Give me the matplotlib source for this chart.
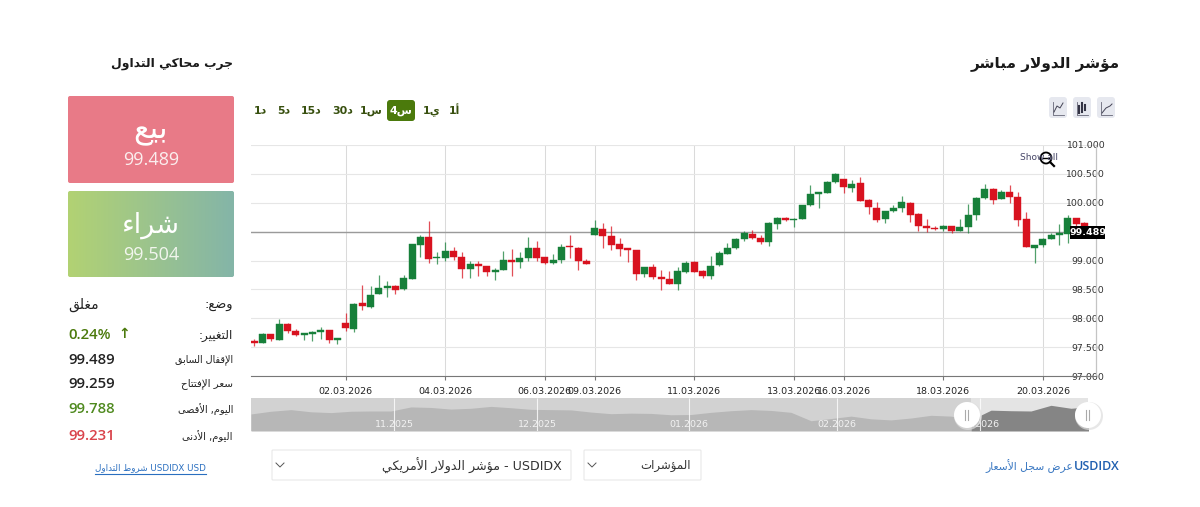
import matplotlib
matplotlib.use('Agg')
import matplotlib.pyplot as plt
import numpy as np
from matplotlib.patches import Circle, FancyBboxPatch, Rectangle

# 4h candles, oldest first
opens = [97.584, 97.578, 97.723, 97.630, 97.902, 97.786, 97.717, 97.734, 97.763, 97.798,
         97.624, 97.925, 97.821, 98.260, 98.191, 98.422, 98.526, 98.561, 98.503, 98.682,
         99.272, 99.410, 99.035, 99.041, 99.162, 99.064, 98.856, 98.937, 98.902, 98.798,
         98.838, 99.006, 98.971, 99.041, 99.220, 99.052, 98.965, 99.012, 99.243, 99.220,
         98.994, 99.445, 99.549, 99.422, 99.278, 99.208, 99.179, 98.769, 98.890, 98.717,
         98.688, 98.596, 98.809, 98.977, 98.815, 98.740, 98.925, 99.116, 99.220, 99.376,
         99.463, 99.393, 99.324, 99.636, 99.740, 99.694, 99.717, 99.954, 100.156, 100.173,
         100.353, 100.405, 100.249, 100.347, 100.041, 99.908, 99.711, 99.856, 99.908, 100.000,
         99.798, 99.595, 99.567, 99.543, 99.595, 99.515, 99.578, 99.780, 100.075, 100.243,
         100.064, 100.185, 100.098, 99.711, 99.220, 99.260, 99.376, 99.439, 99.463, 99.728,
         99.642]
highs = [97.636, 97.746, 97.734, 97.983, 97.913, 97.821, 97.746, 97.781, 97.850, 97.804,
         97.653, 98.098, 98.260, 98.572, 98.555, 98.746, 98.642, 98.584, 98.757, 99.283,
         99.434, 99.682, 99.139, 99.324, 99.226, 99.139, 98.994, 98.994, 98.913, 98.867,
         99.162, 99.191, 99.145, 99.405, 99.335, 99.064, 99.104, 99.289, 99.439, 99.226,
         99.029, 99.699, 99.653, 99.590, 99.393, 99.220, 99.185, 98.890, 98.931, 98.832,
         98.815, 98.890, 98.989, 98.994, 98.827, 99.075, 99.168, 99.306, 99.387, 99.509,
         99.520, 99.439, 99.659, 99.746, 99.752, 99.734, 99.954, 100.301, 100.191, 100.376,
         100.520, 100.410, 100.393, 100.451, 100.064, 100.012, 99.862, 99.960, 100.116, 100.017,
         99.815, 99.723, 99.590, 99.607, 99.601, 99.711, 99.983, 100.093, 100.318, 100.249,
         100.220, 100.301, 100.179, 99.838, 99.266, 99.382, 99.468, 99.630, 99.786, 99.734,
         99.665]
lows = [97.515, 97.567, 97.607, 97.630, 97.746, 97.700, 97.619, 97.607, 97.636, 97.578,
        97.549, 97.781, 97.763, 98.139, 98.179, 98.416, 98.364, 98.428, 98.491, 98.682,
        99.058, 98.960, 98.937, 99.000, 99.012, 98.705, 98.700, 98.740, 98.728, 98.659,
        98.838, 98.728, 98.873, 98.994, 98.994, 98.942, 98.948, 98.965, 99.046, 98.832,
        98.931, 99.439, 99.220, 99.179, 99.075, 98.971, 98.665, 98.717, 98.676, 98.486,
        98.590, 98.486, 98.786, 98.798, 98.700, 98.688, 98.908, 99.110, 99.191, 99.330,
        99.376, 99.278, 99.254, 99.549, 99.682, 99.578, 99.711, 99.948, 99.913, 100.162,
        100.347, 100.162, 100.191, 100.023, 99.798, 99.671, 99.647, 99.838, 99.838, 99.665,
        99.515, 99.491, 99.526, 99.515, 99.468, 99.503, 99.468, 99.694, 100.069, 99.983,
        100.058, 99.994, 99.595, 99.226, 98.965, 99.237, 99.370, 99.260, 99.306, 99.572,
        99.489]
closes = [97.572, 97.729, 97.636, 97.896, 97.775, 97.717, 97.729, 97.763, 97.798, 97.619,
          97.648, 97.833, 98.254, 98.208, 98.399, 98.532, 98.555, 98.497, 98.700, 99.278,
          99.410, 99.029, 99.052, 99.168, 99.058, 98.856, 98.937, 98.902, 98.798, 98.844,
          99.006, 98.971, 99.046, 99.220, 99.041, 98.960, 99.017, 99.237, 99.226, 98.989,
          98.942, 99.567, 99.416, 99.272, 99.197, 99.174, 98.769, 98.890, 98.711, 98.688,
          98.596, 98.815, 98.960, 98.809, 98.740, 98.913, 99.133, 99.220, 99.376, 99.468,
          99.393, 99.318, 99.642, 99.740, 99.694, 99.723, 99.954, 100.156, 100.185, 100.358,
          100.497, 100.266, 100.330, 100.035, 99.925, 99.694, 99.856, 99.908, 100.012, 99.792,
          99.595, 99.561, 99.538, 99.595, 99.509, 99.578, 99.780, 100.087, 100.243, 100.052,
          100.185, 100.098, 99.699, 99.231, 99.260, 99.376, 99.439, 99.463, 99.728, 99.636,
          99.489]
last_price = 99.489

price_ticks = [97.0, 97.5, 98.0, 98.5, 99.0, 99.5, 100.0, 100.5, 101.0]
date_idx = [11, 23, 35, 41, 53, 65, 71, 83, 95]
date_labels = ['02.03.2026', '04.03.2026', '06.03.2026', '09.03.2026', '11.03.2026',
               '13.03.2026', '16.03.2026', '18.03.2026', '20.03.2026']

# long range overview, sampled every few days
nav_close = [97.2, 98.2, 98.8, 98.0, 97.7, 98.2, 98.3, 98.3, 99.8, 99.6, 99.0, 99.3, 100.0, 99.5,
             98.9, 98.8, 98.7, 97.9, 97.3, 97.5, 97.4, 96.9, 97.0, 97.8, 98.4, 98.8, 98.5, 97.8,
             94.7, 95.5, 96.4, 95.4, 95.0, 95.7, 96.7, 96.4, 95.0, 98.6, 98.4, 98.3, 100.4, 99.3, 99.9]
nav_month_idx = [7.15, 14.3, 21.9, 29.3, 36.45]
nav_month_labels = ['11.2025', '12.2025', '01.2026', '02.2026', '03.2026']
nav_window_start = 36

stats_labels = ['التغيير:', 'الإقفال السابق', 'سعر الإفتتاح', 'اليوم, الأقصى', 'اليوم, الأدنى']
stats_values = ['0.24%', '99.489', '99.259', '99.788', '99.231']

GREEN, RED = '#17803a', '#d8121f'
OLIVE = '#4b7a0c'
W, H = 1200, 507

# DejaVu carries the Arabic presentation forms, matplotlib does no shaping of its own
LETTERS = [('ء', 1), ('آ', 2), ('أ', 2), ('ؤ', 2), ('إ', 2), ('ئ', 4), ('ا', 2), ('ب', 4), ('ة', 2),
           ('ت', 4), ('ث', 4), ('ج', 4), ('ح', 4), ('خ', 4), ('د', 2), ('ذ', 2), ('ر', 2), ('ز', 2),
           ('س', 4), ('ش', 4), ('ص', 4), ('ض', 4), ('ط', 4), ('ظ', 4), ('ع', 4), ('غ', 4), ('ف', 4),
           ('ق', 4), ('ك', 4), ('ل', 4), ('م', 4), ('ن', 4), ('ه', 4), ('و', 2), ('ى', 2), ('ي', 4)]
FORMS = {}
code = 0xFE80
for letter, n in LETTERS:
    FORMS[letter] = (code, n)
    code += n
LAM_ALEF = {'آ': 0xFEF5, 'أ': 0xFEF7, 'إ': 0xFEF9, 'ا': 0xFEFB}


def ar(text):
    out = []
    i = 0
    while i < len(text):
        c = text[i]
        if c not in FORMS:
            out.append(c)
            i += 1
            continue
        prev = text[i - 1] if i > 0 else ''
        after_join = prev in FORMS and FORMS[prev][1] == 4
        nxt = text[i + 1] if i + 1 < len(text) else ''
        if c == 'ل' and nxt in LAM_ALEF:
            out.append(chr(LAM_ALEF[nxt] + (1 if after_join else 0)))
            i += 2
            continue
        base, n = FORMS[c]
        form = 1 if after_join else 0
        if n == 4 and nxt in FORMS:
            form += 2
        out.append(chr(base + form))
        i += 1
    return ''.join(reversed(out))


def px(size):
    return size * 72 / 100


fig = plt.figure(figsize=(W / 100, H / 100), dpi=100, facecolor='white')


def axes_at(x0, y0, x1, y1, **kw):
    return fig.add_axes([x0 / W, 1 - y1 / H, (x1 - x0) / W, (y1 - y0) / H], **kw)


# price chart
ax = axes_at(251, 145, 1096, 376)
ax.set_xlim(-0.4, 101.4)
ax.set_ylim(97, 101)
for s in ['left', 'top']:
    ax.spines[s].set_visible(False)
ax.spines['right'].set_color('#c4c4c4')
ax.spines['bottom'].set_color('#777777')
ax.spines['right'].set_linewidth(0.9)
ax.spines['bottom'].set_linewidth(0.8)
ax.set_axisbelow(True)
ax.set_yticks(price_ticks)
ax.set_xticks(date_idx)
ax.set_xticklabels(date_labels, fontsize=px(9.5), color='#222222')
ax.tick_params(axis='x', length=3, width=0.8, color='#777777', pad=5)
ax.yaxis.tick_right()
# the 99.500 label sits behind the last price tag
ax.set_yticklabels(['' if v == 99.5 else '%.3f' % v for v in price_ticks],
                   fontsize=px(9.4), color='#333333', ha='right')
ax.tick_params(axis='y', length=0, pad=6)
ax.grid(axis='y', color='#e6e6e6', lw=0.8)
ax.grid(axis='x', color='#dadada', lw=0.75)

idx = np.arange(len(opens))
o, h, l, c = map(np.array, (opens, highs, lows, closes))
colors = [GREEN if b >= a else RED for a, b in zip(o, c)]
ax.vlines(idx, l, h, colors=colors, lw=0.9, alpha=0.75, zorder=3)
bottoms = np.minimum(o, c)
heights = np.maximum(np.abs(c - o), 0.03)
ax.bar(idx, heights, bottom=bottoms, width=0.84, color=colors, edgecolor=colors, lw=0.3, zorder=4)
ax.axhline(last_price, color='#9a9a9a', lw=1, zorder=2)

# overview strip under the chart
nav = axes_at(251, 398, 1088, 431)
nav_x = np.arange(len(nav_close))
nav.set_xlim(0, 41.85)
nav.set_ylim(90.9, 103.1)
nav.axis('off')
nav.add_patch(Rectangle((0, 90.9), 41.85, 12.2, color='#d2d2d2', lw=0))
nav.add_patch(Rectangle((nav_window_start, 90.9), 41.85 - nav_window_start, 12.2, color='#e4e4e4', lw=0))
nav.fill_between(nav_x[:nav_window_start + 1], 90.9, nav_close[:nav_window_start + 1], color='#b7b7b7', lw=0)
nav.fill_between(nav_x[nav_window_start:], 90.9, nav_close[nav_window_start:], color='#858585', lw=0)
nav.vlines(nav_month_idx, 90.9, 103.1, color='white', lw=0.8, alpha=0.8)
for m, lab in zip(nav_month_idx, nav_month_labels):
    nav.text(m, 93.3, lab, color='#f2f2f2', fontsize=px(9.5), ha='center', va='center')

# page elements, laid out in pixels
ui = axes_at(0, 0, W, H, zorder=10)
ui.set_xlim(0, W)
ui.set_ylim(H, 0)
ui.axis('off')
ui.patch.set_alpha(0)


def put(x, y, s, size, color='#222222', ha='right', weight='normal', family='DejaVu Sans', **kw):
    return ui.text(x, y, s, fontsize=px(size), color=color, ha=ha, va='center',
                   weight=weight, family=family, **kw)


def box(x0, y0, x1, y1, face, edge='none', r=2, lw=0.8):
    p = FancyBboxPatch((x0 + r, y0 + r), x1 - x0 - 2 * r, y1 - y0 - 2 * r,
                       boxstyle='round,pad=%g,rounding_size=%g' % (r, r),
                       facecolor=face, edgecolor=edge, lw=lw)
    ui.add_patch(p)
    return p


put(1120, 65, ar('مؤشر الدولار مباشر'), 15.2, color='#1a1a1a', weight='bold')
put(233, 63, ar('جرب محاكي التداول'), 12.4, color='#1a1a1a', weight='bold')

# sell and buy boxes
box(68, 96, 234, 183, '#e87a87')
put(151, 132, ar('بيع'), 31, color='white', ha='center')
put(151, 160, '99.489', 18, color='#fbeeee', ha='center', family='Open Sans')
buy_box = box(68, 191, 234, 277, 'none')
grad = np.array([[178, 210, 115], [132, 181, 168]]) / 255
grad = np.linspace(grad[0], grad[1], 200)[np.newaxis, :, :]
im = ui.imshow(grad, extent=(68, 234, 277, 191), aspect='auto', zorder=1)
im.set_clip_path(buy_box)
ui.set_xlim(0, W)
ui.set_ylim(H, 0)
put(151, 225, ar('شراء'), 27, color='white', ha='center', zorder=3)
put(151, 255, '99.504', 18, color='#f2f6ee', ha='center', family='Open Sans', zorder=3)

# status rows
put(233, 305, ar('وضع:'), 13)
put(68, 305, ar('مغلق'), 14, ha='left')
row_y = [335, 360, 384, 409, 436]
row_sizes = [12, 9.6, 10.2, 9.8, 10]
row_colors = [OLIVE, '#222222', '#222222', '#4f8a1f', '#d9434b']
for y, lab, val, col, size in zip(row_y, stats_labels, stats_values, row_colors, row_sizes):
    put(233, y, ar(lab), size)
    put(68, y, val, 15, color=col, ha='left', weight='semibold', family='Open Sans')
put(124, 334, '↑', 14, color=OLIVE, ha='center', weight='bold')

link = '#2a6fc0'
put(206, 468, ar('شروط التداول') + ' USDIDX USD', 8.8, color=link)
ui.plot([95, 206], [474, 474], color=link, lw=0.8)
put(1073, 466, ar('عرض سجل الأسعار'), 10.7, color='#3a78c2')
put(1120, 466, 'USDIDX', 12.5, color='#1f5fb0', family='Open Sans', weight='semibold')

# time range buttons
box(387, 100, 415, 121, OLIVE, r=3)
btn_x = [260, 284, 311, 343, 371, 401, 432, 455]
btn_labels = ['1' + ar('د'), '5' + ar('د'), '15' + ar('د'), '30' + ar('د'),
              '1' + ar('س'), '4' + ar('س'), '1' + ar('ي'), '1' + ar('أ')]
for x, lab in zip(btn_x, btn_labels):
    active = lab == btn_labels[5]
    put(x, 111, lab, 11, color='white' if active else '#38500f', ha='center', weight='bold')

# chart type buttons
for x0 in [1049, 1073, 1097]:
    box(x0, 97, x0 + 18, 118, '#e6e8ef', r=3)
    ui.plot([x0 + 4, x0 + 4, x0 + 15], [102, 115, 115], color='#667', lw=0.6)
ui.plot([1054, 1057, 1060, 1063], [112, 106, 108, 103], color='#445', lw=0.7)
for x, y0, y1 in [(1079, 106, 113), (1082, 103, 112), (1085, 105, 110)]:
    ui.plot([x, x], [y0, y1], color='#334', lw=1.5)
ui.plot([1102, 1106, 1110, 1112], [113, 108, 106, 104], color='#445', lw=0.7)

# last price tag and zoom reset
ui.add_patch(Rectangle((1070, 226), 35, 13, color='black', lw=0))
put(1087.5, 232.3, '%.3f' % last_price, 9.5, color='white', ha='center', weight='bold')
put(1039, 158, 'Show all', 9, color='#444466', ha='center')
ui.add_patch(Circle((1046, 158), 5.5, facecolor='none', edgecolor='black', lw=1.3))
ui.plot([1043, 1049], [158, 158], color='black', lw=1)
ui.plot([1050, 1054], [162, 166], color='black', lw=1.6)

# overview handles
for x in [967, 1088]:
    ui.add_patch(Circle((x + 1, 416), 14, color='#dddddd', lw=0, alpha=0.7))
    ui.add_patch(Circle((x, 415), 13, color='white', lw=0))
    ui.plot([x - 2, x - 2], [410, 420], color='#aaaaaa', lw=0.8)
    ui.plot([x + 1, x + 1], [410, 420], color='#aaaaaa', lw=0.8)

# dropdowns
for x0, x1 in [(272, 571), (584, 701)]:
    box(x0, 450, x1, 480, 'white', edge='#e8e8e8', r=1)
    ui.plot([x0 + 4, x0 + 8, x0 + 12], [463, 467, 463], color='#555555', lw=0.7)
put(562, 466, ar('مؤشر الدولار الأمريكي') + ' - USDIDX', 12.6, color='#333333')
put(691, 466, ar('المؤشرات'), 11.8, color='#333333')

fig.savefig('out.png', dpi=100)
